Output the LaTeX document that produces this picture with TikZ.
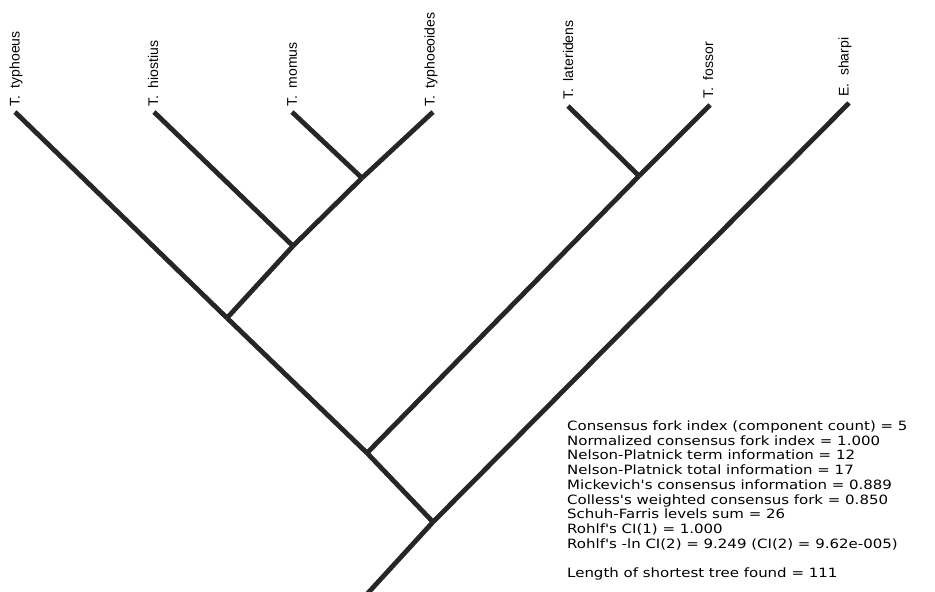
\documentclass[tikz,border=0pt]{standalone}
\usepackage{fontspec}
\setmainfont{Liberation Sans}
\newfontfamily\statfont{DejaVu Sans}
\newcommand{\wideline}[1]{\scalebox{1.17}[1]{#1}}
\begin{document}
\begin{tikzpicture}[x=1pt,y=-1pt,
  branch/.style={line width=4.8pt, draw=black!85, line cap=butt},
  taxon/.style={rotate=90, anchor=west, inner sep=0pt, font=\fontsize{14}{15}\selectfont},
  stat/.style={anchor=base west, inner sep=0pt, font=\statfont\fontsize{12.8}{14.7}\selectfont}]
\useasboundingbox (0,0) rectangle (935,592);
\clip (0,0) rectangle (935,592);

% tips
\coordinate (typhoeus) at (15,112);
\coordinate (hiostius) at (154,112);
\coordinate (momus) at (292,112);
\coordinate (typhoeoides) at (433,112);
\coordinate (lateridens) at (568,106);
\coordinate (fossor) at (710,105);
\coordinate (sharpi) at (849,103);

% internal nodes
\coordinate (n1) at (362,178);
\coordinate (n2) at (293,246);
\coordinate (n3) at (227,318);
\coordinate (n4) at (639,176);
\coordinate (n5) at (367,453);
\coordinate (n6) at (433,522);
\coordinate (base) at (357,605);

% branches
\draw[branch] (momus) -- (n1);
\draw[branch] (typhoeoides) -- (n1);
\draw[branch] (n1) -- (n2);
\draw[branch] (hiostius) -- (n2);
\draw[branch] (n2) -- (n3);
\draw[branch] (typhoeus) -- (n3);
\draw[branch] (lateridens) -- (n4);
\draw[branch] (fossor) -- (n4);
\draw[branch] (n3) -- (n5);
\draw[branch] (n4) -- (n5);
\draw[branch] (n5) -- (n6);
\draw[branch] (sharpi) -- (n6);
\draw[branch] (n6) -- (base);

% taxon labels
\node[taxon] (l1) at ([shift={(1,-5)}]typhoeus) {T.\ \ typhoeus};
\node[taxon] (l2) at ([shift={(-1,-5)}]hiostius) {T.\ \ hiostius};
\node[taxon] (l3) at ([shift={(0,-5)}]momus) {T.\ \ momus};
\node[taxon] (l4) at ([shift={(-2,-5)}]typhoeoides) {T.\ \ typhoeoides};
\node[taxon] (l5) at ([shift={(0,-6)}]lateridens) {T.\ \ lateridens};
\node[taxon] (l6) at ([shift={(-2,-6)}]fossor) {T.\ \ fossor};
\node[taxon] (l7) at ([shift={(-4,-6)}]sharpi) {E.\ \ sharpi};

% consensus statistics
\node[stat] (s1) at (567,430.5) {\wideline{Consensus fork index (component count) = 5}};
\node[stat] (s2) at (567,445.2) {\wideline{Normalized consensus fork index = 1.000}};
\node[stat] (s3) at (567,459.9) {\wideline{Nelson-Platnick term information = 12}};
\node[stat] (s4) at (567,474.6) {\wideline{Nelson-Platnick total information = 17}};
\node[stat] (s5) at (567,489.3) {\wideline{Mickevich's consensus information = 0.889}};
\node[stat] (s6) at (567,504.0) {\wideline{Colless's weighted consensus fork = 0.850}};
\node[stat] (s7) at (567,518.7) {\wideline{Schuh-Farris levels sum = 26}};
\node[stat] (s8) at (567,533.4) {\wideline{Rohlf's CI(1) = 1.000}};
\node[stat] (s9) at (567,548.1) {\wideline{Rohlf's -ln CI(2) = 9.249 (CI(2) = 9.62e-005)}};
\node[stat] (s10) at (567,577.5) {\wideline{Length of shortest tree found = 111}};
\end{tikzpicture}
\end{document}
